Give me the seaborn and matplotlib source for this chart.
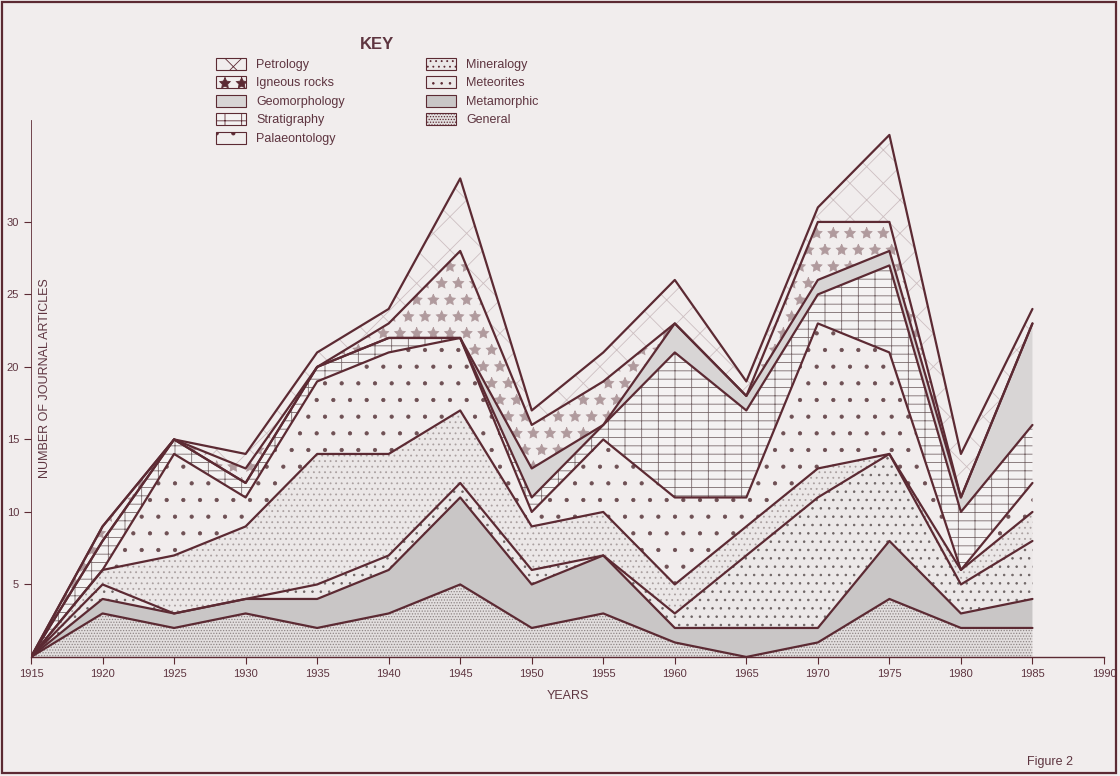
import numpy as np
import pandas as pd
import matplotlib
matplotlib.use("Agg")
import matplotlib.pyplot as plt
import seaborn as sns
from matplotlib.patches import Patch, Rectangle

# Journal articles per subject, 5-year steps
years = [1915, 1920, 1925, 1930, 1935, 1940, 1945, 1950, 1955, 1960, 1965, 1970, 1975, 1980, 1985]
general = [0, 3, 2, 3, 2, 3, 5, 2, 3, 1, 0, 1, 4, 2, 2]
metamorphic = [0, 1, 1, 1, 2, 3, 6, 3, 4, 1, 2, 1, 4, 1, 2]
meteorites = [0, 1, 0, 0, 1, 1, 1, 1, 0, 1, 5, 9, 6, 2, 4]
mineralogy = [0, 1, 4, 5, 9, 7, 5, 3, 3, 2, 2, 2, 0, 1, 2]
palaeontology = [0, 0, 7, 2, 5, 7, 5, 1, 5, 6, 2, 10, 7, 0, 2]
stratigraphy = [0, 2, 1, 1, 1, 1, 0, 1, 1, 10, 6, 2, 6, 4, 4]
geomorphology = [0, 0, 0, 0, 0, 0, 0, 2, 0, 2, 1, 1, 1, 1, 7]
igneous = [0, 1, 0, 1, 0, 1, 6, 3, 3, 0, 0, 4, 2, 0, 0]
petrology = [0, 0, 0, 1, 1, 1, 5, 1, 2, 3, 1, 1, 6, 3, 1]

x_ticks = [1915, 1920, 1925, 1930, 1935, 1940, 1945, 1950, 1955, 1960, 1965, 1970, 1975, 1980, 1985, 1990]
y_ticks = [5, 10, 15, 20, 25, 30]

# bottom -> top stacking order
layers = [
    ("General", general),
    ("Metamorphic", metamorphic),
    ("Meteorites", meteorites),
    ("Mineralogy", mineralogy),
    ("Palaeontology", palaeontology),
    ("Stratigraphy", stratigraphy),
    ("Geomorphology", geomorphology),
    ("Igneous rocks", igneous),
    ("Petrology", petrology),
]

BG = "#f1eded"
INK = "#5c2a33"
TXT = "#5e3540"

# face colour, hatch, hatch colour
styles = {
    "General": ("#e2dede", "......", "#8e8585"),
    "Metamorphic": ("#c9c6c6", None, None),
    "Meteorites": ("#ece8e8", "..", "#6e6464"),
    "Mineralogy": ("#ebe7e7", "...", "#aaa0a0"),
    "Palaeontology": (BG, ".", "#6e5054"),
    "Stratigraphy": ("#f4f2f2", "+-", "#7a6a6c"),
    "Geomorphology": ("#d8d5d5", None, None),
    "Igneous rocks": (BG, "*", "#b09a9d"),
    "Petrology": (BG, "x", "#cdbfc1"),
}

sns.set_theme(style="white")
plt.rcParams['font.family'] = ['Liberation Sans', 'DejaVu Sans']
plt.rcParams['hatch.linewidth'] = 0.6

fig = plt.figure(figsize=(11.2, 7.76), dpi=100, facecolor=BG)
ax = fig.add_axes([0.0277, 0.1534, 0.958, 0.6914])
ax.set_facecolor(BG)

df = pd.DataFrame({name: vals for name, vals in layers}, index=years)
tops = df.cumsum(axis=1)

lower = np.zeros(len(years))
for name, vals in layers:
    upper = tops[name].values
    fc, hatch, hc = styles[name]
    ax.fill_between(years, lower, upper, facecolor=fc, edgecolor="none", linewidth=0)
    if hatch:
        ax.fill_between(years, lower, upper, facecolor="none", edgecolor=hc,
                        hatch=hatch, linewidth=0)
    lower = upper

# boundary lines between layers
long = tops.reset_index(names="year").melt(id_vars="year", var_name="layer", value_name="top")
sns.lineplot(data=long, x="year", y="top", hue="layer", palette=[INK] * len(layers),
             linewidth=1.6, legend=False, ax=ax, sort=False)

ax.set_xlim(1915, 1990)
ax.set_ylim(0, 37)
ax.set_xticks(x_ticks)
ax.set_yticks(y_ticks)
ax.tick_params(axis="both", colors=INK, labelcolor=TXT, labelsize=8, length=5, width=0.8,
               direction="out", bottom=True, left=True)
for s in ["top", "right"]:
    ax.spines[s].set_visible(False)
ax.spines["bottom"].set_color(INK)
ax.spines["bottom"].set_linewidth(1.0)
ax.spines["left"].set_color(INK)
ax.spines["left"].set_linewidth(0.6)
ax.set_xlabel("YEARS", color=TXT, fontsize=9, labelpad=8)
ax.set_ylabel("")
fig.text(45 / 1120, 0.513, "NUMBER OF JOURNAL ARTICLES", rotation=90, color=TXT,
         fontsize=9, ha="center", va="center")

# key
handles = []
labels = []
for name in ["Petrology", "Igneous rocks", "Geomorphology", "Stratigraphy", "Palaeontology",
             "Mineralogy", "Meteorites", "Metamorphic", "General"]:
    fc, hatch, hc = styles[name]
    handles.append(Patch(facecolor=fc, edgecolor=INK, hatch=hatch, linewidth=0.8))
    labels.append(name)
leg = fig.legend(handles, labels, loc="upper left", bbox_to_anchor=(205 / 1120, 1 - 26 / 776),
                 ncol=2, frameon=False, title="KEY", fontsize=9, handlelength=2.4,
                 handleheight=1.1, labelspacing=0.42, columnspacing=6.5, handletextpad=0.8)
leg.get_title().set_fontweight("bold")
leg.get_title().set_color(TXT)
for t in leg.get_texts():
    t.set_color(TXT)

fig.text(1050 / 1120, 1 - 762 / 776, "Figure 2", color=TXT, fontsize=9, ha="center", va="center")
fig.patches.append(Rectangle((0.002, 0.004), 0.994, 0.993, transform=fig.transFigure,
                             fill=False, edgecolor=INK, linewidth=1.6))

fig.savefig("out.png", dpi=100, facecolor=BG)
